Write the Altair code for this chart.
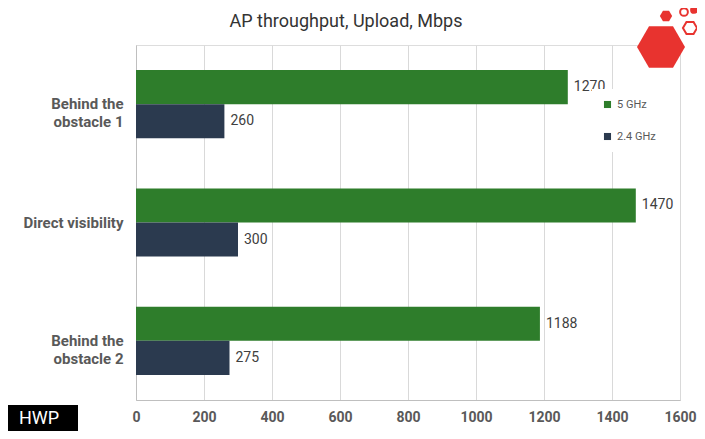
import altair as alt
import pandas as pd

# ---- data ----
categories = ["Behind the|obstacle 1", "Direct visibility", "Behind the|obstacle 2"]
series = ["5 GHz", "2.4 GHz"]
values_5ghz = [1270, 1470, 1188]
values_24ghz = [260, 300, 275]
x_ticks = [0, 200, 400, 600, 800, 1000, 1200, 1400, 1600]
colors = ["#2e7d2b", "#2b3a4f"]
title_text = "AP throughput, Upload, Mbps"

rows = []
for c, a, b in zip(categories, values_5ghz, values_24ghz):
    rows.append({"category": c, "band": series[0], "value": a})
    rows.append({"category": c, "band": series[1], "value": b})
df = pd.DataFrame(rows)

grey = "#595959"

x_enc = alt.X(
    "value:Q",
    scale=alt.Scale(domain=[0, 1600], nice=False, zero=True),
    axis=alt.Axis(
        values=x_ticks, title=None, grid=True, gridColor="#d9d9d9", ticks=False,
        domainColor="#bfbfbf", labelFontSize=14, labelFontWeight="bold", format="d",
        labelColor=grey, labelFont="Roboto", labelPadding=10, labelFlush=False,
        labelOverlap=False,
    ),
)
y_enc = alt.Y(
    "category:N", sort=categories,
    scale=alt.Scale(paddingInner=0.424, paddingOuter=0.212),
    axis=alt.Axis(
        title=None, ticks=False, domainColor="#bfbfbf",
        labelExpr="split(datum.label, '|')", labelFontSize=15,
        labelFontWeight="bold", labelColor=grey, labelFont="Roboto",
        labelPadding=13, labelLineHeight=18,
    ),
)
yoff = alt.YOffset("band:N", sort=series, scale=alt.Scale(paddingInner=0, paddingOuter=0))

bars = alt.Chart(df).mark_bar().encode(
    x=x_enc, y=y_enc, yOffset=yoff,
    color=alt.Color(
        "band:N", sort=series, scale=alt.Scale(domain=series, range=colors),
        legend=alt.Legend(
            title=None, orient="none", legendX=456, legendY=44,
            fillColor="white", padding=10, rowPadding=20,
            symbolType="square", symbolSize=50, symbolStrokeWidth=0,
            labelFontSize=11, labelColor=grey, labelFont="Roboto",
        ),
    ),
)

labels = alt.Chart(df).mark_text(
    align="left", dx=6, fontSize=14, color="#404040", font="Roboto"
).encode(x="value:Q", y=alt.Y("category:N", sort=categories), yOffset=yoff, text="value:Q")

one = pd.DataFrame({"k": [0]})

title_mark = alt.Chart(one).mark_text(
    text=title_text, fontSize=18, color="#333333", font="Roboto",
    align="center", baseline="alphabetic",
).encode(x=alt.value(210), y=alt.value(-18))

hex_path = "M -1 0 L -0.5 -0.866 L 0.5 -0.866 L 1 0 L 0.5 0.866 L -0.5 0.866 Z"
red = "#e8332f"

logo_big = alt.Chart(one).mark_point(shape=hex_path, filled=True, color=red, opacity=1).encode(
    x=alt.value(525), y=alt.value(2), size=alt.value(2304))
logo_small = alt.Chart(one).mark_point(shape=hex_path, filled=True, color=red, opacity=1).encode(
    x=alt.value(530), y=alt.value(-29), size=alt.value(150))
logo_outline = alt.Chart(one).mark_point(shape=hex_path, filled=False, color=red, strokeWidth=2, opacity=1).encode(
    x=alt.value(554), y=alt.value(-17), size=alt.value(200))
logo_circ1 = alt.Chart(one).mark_point(shape="circle", filled=False, color=red, strokeWidth=2, opacity=1).encode(
    x=alt.value(548), y=alt.value(-33), size=alt.value(60))
logo_circ2 = alt.Chart(one).mark_point(shape="circle", filled=True, color=red, opacity=1).encode(
    x=alt.value(558), y=alt.value(-35), size=alt.value(60))

hwp_box = alt.Chart(one).mark_rect(color="black").encode(
    x=alt.value(-128), x2=alt.value(-58), y=alt.value(360), y2=alt.value(386))
hwp_text = alt.Chart(one).mark_text(text="HWP", color="white", fontSize=18, font="Roboto",
                                     align="center", baseline="middle").encode(
    x=alt.value(-97), y=alt.value(374))

chart = alt.layer(
    bars, labels, title_mark, logo_big, logo_small, logo_outline, logo_circ1, logo_circ2,
    hwp_box, hwp_text
).properties(
    width=544, height=355,
    padding={"left": 128, "top": 37, "right": 17, "bottom": 31},
    autosize=alt.AutoSizeParams(type="none"),
).configure_view(strokeWidth=0).configure(background="white")

chart.save("out.html", embed_options={"renderer": "svg", "actions": False})
